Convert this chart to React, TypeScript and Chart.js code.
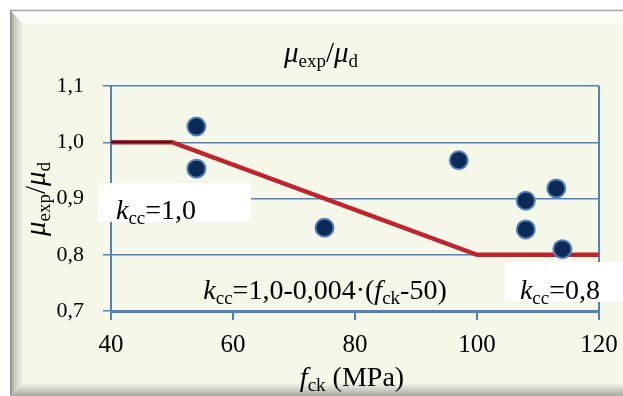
import React, { useEffect, useRef } from 'react';
import { Chart, registerables } from 'chart.js';
Chart.register(...registerables);

const fckValues = [54, 54, 75, 97, 108, 108, 113, 114];
const ratioValues = [1.028, 0.953, 0.848, 0.968, 0.896, 0.845, 0.918, 0.81];
const kccX = [40, 50, 100, 120];
const kccY = [1.0, 1.0, 0.8, 0.8];
const flatX = [40, 50];
const flatY = [1.0, 1.0];
const xTicks = [40, 60, 80, 100, 120];
const xTickLabels = ['40', '60', '80', '100', '120'];
const yTicks = [0.7, 0.8, 0.9, 1.0, 1.1];
const yTickLabels = ['0,7', '0,8', '0,9', '1,0', '1,1'];

const FAMILY = '"Liberation Serif", "Times New Roman", serif';
const CREAM = '#F5F7E9';
const BLUE = '#4F81BD';

type Seg = { t: string; i?: boolean; s?: boolean };

function richWidth(ctx: CanvasRenderingContext2D, segs: Seg[], size: number, sub: number) {
  let w = 0;
  for (const g of segs) {
    ctx.font = `${g.i ? 'italic ' : ''}${g.s ? sub : size}px ${FAMILY}`;
    w += ctx.measureText(g.t).width;
  }
  return w;
}

function drawRich(ctx: CanvasRenderingContext2D, segs: Seg[], x: number, y: number, size: number, sub: number, align: 'left' | 'center' | 'right') {
  const total = richWidth(ctx, segs, size, sub);
  let cx = align === 'center' ? x - total / 2 : align === 'right' ? x - total : x;
  ctx.textAlign = 'left';
  ctx.textBaseline = 'alphabetic';
  ctx.fillStyle = '#000';
  for (const g of segs) {
    ctx.font = `${g.i ? 'italic ' : ''}${g.s ? sub : size}px ${FAMILY}`;
    ctx.fillText(g.t, cx, y + (g.s ? size * 0.17 : 0));
    cx += ctx.measureText(g.t).width;
  }
}

const decorPlugin = {
  id: 'decor',
  beforeDraw(chart: any) {
    const ctx: CanvasRenderingContext2D = chart.ctx;
    const W = chart.width, H = chart.height;
    ctx.save();
    ctx.fillStyle = '#ffffff';
    ctx.fillRect(0, 0, W, H);
    ctx.fillStyle = CREAM;
    ctx.fillRect(10, 10, W - 10, H - 10);
    // top bevel
    let g = ctx.createLinearGradient(0, 10, 0, 24);
    g.addColorStop(0, '#ffffff');
    g.addColorStop(1, '#FAFBF2');
    ctx.fillStyle = g;
    ctx.beginPath();
    ctx.moveTo(10, 10); ctx.lineTo(W, 10); ctx.lineTo(W, 24); ctx.lineTo(23, 24); ctx.closePath();
    ctx.fill();
    // left bevel
    g = ctx.createLinearGradient(10, 0, 23, 0);
    g.addColorStop(0, '#8E8E8E');
    g.addColorStop(0.35, '#C8C9C0');
    g.addColorStop(1, CREAM);
    ctx.fillStyle = g;
    ctx.beginPath();
    ctx.moveTo(10, 10); ctx.lineTo(23, 24); ctx.lineTo(23, H - 13); ctx.lineTo(10, H); ctx.closePath();
    ctx.fill();
    // bottom bevel
    g = ctx.createLinearGradient(0, H - 13, 0, H);
    g.addColorStop(0, CREAM);
    g.addColorStop(1, '#A8A8A2');
    ctx.fillStyle = g;
    ctx.beginPath();
    ctx.moveTo(10, H); ctx.lineTo(23, H - 13); ctx.lineTo(W, H - 13); ctx.lineTo(W, H); ctx.closePath();
    ctx.fill();
    // top gray line
    ctx.strokeStyle = '#A4A4A4';
    ctx.lineWidth = 1.5;
    ctx.beginPath(); ctx.moveTo(10, 10.5); ctx.lineTo(W, 10.5); ctx.stroke();
    ctx.restore();
  },
  beforeDatasetsDraw(chart: any) {
    const ctx: CanvasRenderingContext2D = chart.ctx;
    const a = chart.chartArea;
    ctx.save();
    ctx.strokeStyle = BLUE;
    ctx.lineWidth = 2;
    ctx.beginPath(); ctx.moveTo(a.right, a.top); ctx.lineTo(a.right, a.bottom + 9); ctx.stroke();
    ctx.fillStyle = '#ffffff';
    ctx.fillRect(98, 183, 153, 39);
    ctx.fillRect(505, 262, chart.width - 505, 40);
    ctx.restore();
  },
  afterDatasetsDraw(chart: any) {
    const ctx: CanvasRenderingContext2D = chart.ctx;
    ctx.save();
    // chart title
    drawRich(ctx, [{ t: 'μ', i: true }, { t: 'exp', s: true }, { t: '/' }, { t: 'μ', i: true }, { t: 'd', s: true }], 321, 62, 29, 19, 'center');
    // y-axis title (rotated)
    ctx.save();
    ctx.translate(45, 199);
    ctx.rotate(-Math.PI / 2);
    drawRich(ctx, [{ t: 'μ', i: true }, { t: 'exp', s: true }, { t: '/' }, { t: 'μ', i: true }, { t: 'd', s: true }], 0, 0, 29, 19, 'center');
    ctx.restore();
    // x-axis title
    drawRich(ctx, [{ t: 'f', i: true }, { t: 'ck', s: true }, { t: ' (MPa)' }], 352, 386, 28, 19, 'center');
    // annotations
    drawRich(ctx, [{ t: 'k', i: true }, { t: 'cc', s: true }, { t: '=1,0' }], 116, 219, 28, 19, 'left');
    drawRich(ctx, [{ t: 'k', i: true }, { t: 'cc', s: true }, { t: '=1,0-0,004·(' }, { t: 'f', i: true }, { t: 'ck', s: true }, { t: '-50)' }], 325, 299, 28, 19, 'center');
    drawRich(ctx, [{ t: 'k', i: true }, { t: 'cc', s: true }, { t: '=0,8' }], 600, 299, 28, 19, 'right');
    ctx.restore();
  },
};

export default function App() {
  const ref = useRef<HTMLCanvasElement | null>(null);
  useEffect(() => {
    if (!ref.current) return;
    const chart = new Chart(ref.current, {
      type: 'scatter',
      data: {
        datasets: [
          {
            label: 'test',
            data: fckValues.map((x, i) => ({ x, y: ratioValues[i] })),
            backgroundColor: '#0B2A55',
            borderColor: BLUE,
            borderWidth: 2,
            pointRadius: 9,
            showLine: false,
          },
          {
            label: 'flat',
            data: flatX.map((x, i) => ({ x, y: flatY[i] })),
            borderColor: '#1a1a1a',
            borderWidth: 1.5,
            pointRadius: 0,
            showLine: true,
          },
          {
            label: 'kcc',
            data: kccX.map((x, i) => ({ x, y: kccY[i] })),
            borderColor: '#C0232B',
            borderWidth: 4.5,
            pointRadius: 0,
            showLine: true,
          },
        ],
      },
      options: {
        responsive: false,
        animation: false,
        devicePixelRatio: 1,
        layout: { padding: { top: 86, right: 24, left: 0, bottom: 0 } },
        plugins: { legend: { display: false }, tooltip: { enabled: false }, title: { display: false } },
        scales: {
          x: {
            type: 'linear',
            min: 40,
            max: 120,
            afterFit: (s: any) => { s.height = 85; s.paddingLeft = 0; s.paddingRight = 0; },
            afterBuildTicks: (s: any) => { s.ticks = xTicks.map((v) => ({ value: v })); },
            ticks: {
              callback: (_v: any, i: number) => xTickLabels[i],
              font: { family: FAMILY, size: 25 },
              color: '#000',
              padding: 10,
              maxRotation: 0,
            },
            grid: { drawOnChartArea: false, drawTicks: true, tickLength: 9, color: BLUE, lineWidth: 2 },
            border: { color: BLUE, width: 3 },
          },
          y: {
            type: 'linear',
            min: 0.7,
            max: 1.1,
            afterFit: (s: any) => { s.width = 111; s.paddingTop = 0; s.paddingBottom = 0; },
            afterBuildTicks: (s: any) => { s.ticks = yTicks.map((v) => ({ value: v })); },
            ticks: {
              callback: (_v: any, i: number) => yTickLabels[i],
              font: { family: FAMILY, size: 22 },
              color: '#000',
              padding: 19,
            },
            grid: { color: BLUE, lineWidth: 1.5, tickLength: 8 },
            border: { color: BLUE, width: 2 },
          },
        },
      },
      plugins: [decorPlugin],
    });
    return () => chart.destroy();
  }, []);
  return (
    <div style={{ position: 'absolute', left: 0, top: 0, width: 623, height: 396 }}>
      <canvas ref={ref} width={623} height={396} style={{ display: 'block' }} />
    </div>
  );
}
